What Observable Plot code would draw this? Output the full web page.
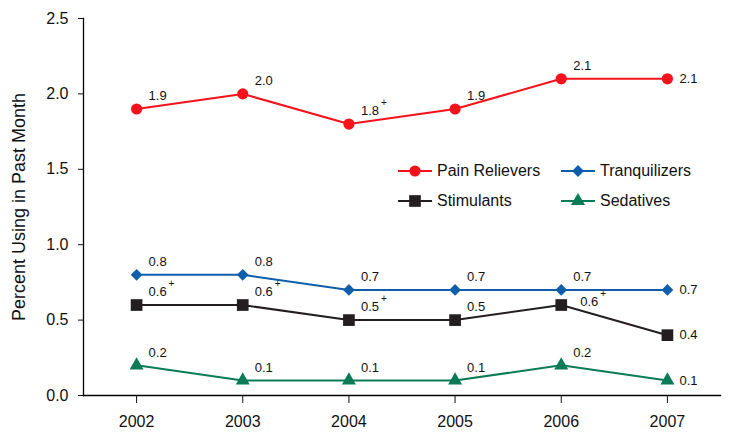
<!DOCTYPE html>
<html>
<head>
<meta charset="utf-8">
<script src="https://cdn.jsdelivr.net/npm/d3@7"></script>
<script src="https://cdn.jsdelivr.net/npm/@observablehq/plot@0.6"></script>
<style>
  body { margin: 0; background: #fff; font-family: "Liberation Sans", Arial, sans-serif; }
  #wrap { position: relative; width: 737px; height: 437px; }
  .leg { position: absolute; display: flex; align-items: center; font-size: 16px; color: #111; white-space: nowrap; }
  .leg svg { margin-right: 5px; }
  g[aria-label="y-axis label"] text { font-size: 18px; }
</style>
</head>
<body>
<div id="wrap"></div>
<script>
// ---- data ----
const years = [2002, 2003, 2004, 2005, 2006, 2007];
const painRelievers = [1.9, 2.0, 1.8, 1.9, 2.1, 2.1];
const tranquilizers = [0.8, 0.8, 0.7, 0.7, 0.7, 0.7];
const stimulants = [0.6, 0.6, 0.5, 0.5, 0.6, 0.4];
const sedatives = [0.2, 0.1, 0.1, 0.1, 0.2, 0.1];
// "+" marks (difference from 2007 estimate is statistically significant)
const painRelieversSig = [false, false, true, false, false, false];
const tranquilizersSig = [false, false, false, false, false, false];
const stimulantsSig = [true, true, true, false, true, false];
const sedativesSig = [false, false, false, false, false, false];
const yTicks = [0, 0.5, 1.0, 1.5, 2.0, 2.5];
const seriesNames = ["Pain Relievers", "Tranquilizers", "Stimulants", "Sedatives"];

// ---- styles ----
const colors = ["#f5121b", "#0f5eac", "#231f20", "#0b7b57"];
const symbols = ["circle", "diamond2", "square", "triangle"];
const radii = [5.6, 5.3, 6.6, 5.2];

const seriesValues = [painRelievers, tranquilizers, stimulants, sedatives];
const seriesSig = [painRelieversSig, tranquilizersSig, stimulantsSig, sedativesSig];

const rows = seriesNames.flatMap((name, si) =>
  years.map((year, i) => ({series: name, year, value: seriesValues[si][i], sig: seriesSig[si][i]}))
);

function placement(d) {
  if (d.year === 2007) return "right";
  if (d.series === "Stimulants" && d.year === 2006) return "rightUp";
  return "above";
}
const offsets = {above: [12, -13], right: [12, 0], rightUp: [19, -3]};
const fmt = d3.format(".1f");

const marks = [
  Plot.frame({anchor: "left", stroke: "#000", strokeWidth: 1.3}),
  Plot.frame({anchor: "bottom", stroke: "#000", strokeWidth: 1.3}),
];
seriesNames.forEach((name, si) => {
  const data = rows.filter(d => d.series === name);
  marks.push(Plot.line(data, {x: "year", y: "value", stroke: colors[si], strokeWidth: 2}));
});
seriesNames.forEach((name, si) => {
  const data = rows.filter(d => d.series === name);
  marks.push(Plot.dot(data, {x: "year", y: "value", symbol: () => symbols[si], r: radii[si], fill: colors[si], stroke: "none"}));
});
for (const [key, [dx, dy]] of Object.entries(offsets)) {
  const data = rows.filter(d => placement(d) === key);
  marks.push(Plot.text(data, {x: "year", y: "value", text: d => fmt(d.value), dx, dy, textAnchor: "start", fontSize: 13, fill: "#111"}));
  marks.push(Plot.text(data.filter(d => d.sig), {x: "year", y: "value", text: () => "+", dx: dx + 20, dy: dy - 8, textAnchor: "start", fontSize: 10, fill: "#111"}));
}
marks.push(Plot.axisX({ticks: years, tickFormat: d => String(d), tickSize: 8, tickPadding: 12, fontSize: 16, label: null}));
marks.push(Plot.axisY({ticks: yTicks, tickFormat: fmt, tickSize: 5, tickPadding: 10, fontSize: 16,
  label: "Percent Using in Past Month", labelAnchor: "center", labelArrow: "none", labelOffset: 71}));

const chart = Plot.plot({
  width: 737,
  height: 437,
  marginLeft: 83,
  marginRight: 17,
  marginTop: 18,
  marginBottom: 42,
  style: {fontFamily: "'Liberation Sans', Arial, sans-serif", color: "#111", background: "#fff", fontSize: "16px"},
  x: {domain: [2001.5, 2007.5]},
  y: {domain: [0, 2.5]},
  symbol: {type: "identity"},
  marks
});
const wrap = document.getElementById("wrap");
wrap.appendChild(chart);

// ---- legend (HTML overlay) ----
const legendItems = [
  {si: 0, left: 398, top: 171},
  {si: 1, left: 561, top: 171},
  {si: 2, left: 398, top: 201},
  {si: 3, left: 561, top: 201},
];
for (const {si, left, top} of legendItems) {
  const div = document.createElement("div");
  div.className = "leg";
  div.style.left = left + "px";
  div.style.top = (top - 10) + "px";
  div.style.height = "20px";
  const sym = {circle: d3.symbolCircle, diamond2: d3.symbolDiamond2, square: d3.symbolSquare, triangle: d3.symbolTriangle}[symbols[si]];
  const path = d3.symbol(sym, Math.PI * radii[si] * radii[si])();
  div.innerHTML = `<svg width="34" height="20" viewBox="0 0 34 20"><line x1="0" x2="34" y1="10" y2="10" stroke="${colors[si]}" stroke-width="2"/><path transform="translate(17,10)" d="${path}" fill="${colors[si]}"/></svg><span>${seriesNames[si]}</span>`;
  wrap.appendChild(div);
}
</script>
</body>
</html>
